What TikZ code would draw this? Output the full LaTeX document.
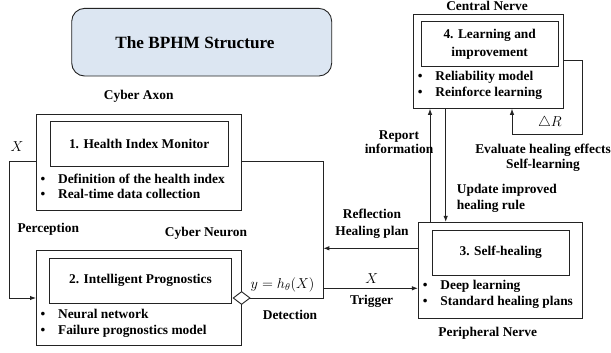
\documentclass[tikz,border=0pt]{standalone}
\usepackage{fontspec}
\setmainfont{Liberation Serif}
\usetikzlibrary{shapes.geometric,arrows.meta}
\definecolor{titlefill}{RGB}{220,230,242}
\definecolor{ln}{RGB}{35,35,35}
\newcommand\bul[1]{\makebox[17.5pt][l]{\textbullet}#1}
\begin{document}
\begin{tikzpicture}[x=1pt,y=-1pt,
  every node/.style={font=\fontsize{13.4}{15.7}\selectfont\bfseries, inner sep=0pt, text=black},
  box/.style={draw=ln, line width=0.9pt, fill=white, rectangle, inner sep=0pt},
  lbl/.style={align=center},
  lst/.style={anchor=west, align=left},
  arr/.style={draw=ln, line width=0.9pt, -{Latex[length=6pt,width=4.5pt]}},
  ln/.style={draw=ln, line width=0.9pt}
]
\useasboundingbox (0,0) rectangle (611,353);

% coordinates of the outer frame and free ends
\coordinate (fr) at (323.3,298);
\coordinate (ftr) at (323.3,161);
\coordinate (ftl) at (9,161);
\coordinate (fbl) at (9,298);
\coordinate (trs) at (323.3,288.3);
\coordinate (refl) at (323.3,248.3);
\coordinate (ua) at (430,0);
\coordinate (da) at (445.7,0);
\coordinate (la) at (563,60);
\coordinate (lb) at (582,60);
\coordinate (lc) at (582,134);
\coordinate (ld) at (512,134);

% title
\node[draw=ln, line width=0.9pt, fill=titlefill, rounded corners=13pt,
      minimum width=260pt, minimum height=67.7pt] (title) at (201.7,42.2) {};
\node[font=\fontsize{17.2}{20}\selectfont\bfseries] (titletext) at (195,42.7) {The BPHM Structure};

% boxes
\node[box, minimum width=164.4pt, minimum height=96pt] (b3) at (500.5,270.3) {};
\node[box, minimum width=150pt, minimum height=94.3pt] (b4) at (488.3,61.2) {};

% frame (drawn before boxes 1 and 2)
\node[box, minimum width=204.7pt, minimum height=94.3pt] (b2) at (138.8,297.9) {};
\coordinate (dc) at (b2.east |- fr);
\draw[ln] (dc) -- (fr) -- (ftr) -- (ftl) -- (fbl);
\draw[arr] (fbl) -- (b2.west |- fbl);
\node[box, minimum width=205.2pt, minimum height=96pt] (b1) at (139,162) {};
\node[draw=ln, line width=0.9pt, fill=white, diamond, inner sep=0pt,
      minimum width=17pt, minimum height=13pt] (dia) at (dc) {};

% inner boxes
\node[box, minimum width=178.3pt, minimum height=45pt] (i1) at (139.2,144.2) {1. Health Index Monitor};
\node[box, minimum width=182.4pt, minimum height=45pt] (i2) at (140.5,280.8) {2. Intelligent Prognostics};
\node[box, minimum width=137pt, minimum height=45pt] (i3) at (500.8,252.5) {3. Self-healing};
\node[box, minimum width=137.3pt, minimum height=45pt, align=center,
      font=\fontsize{13.4}{17.3}\selectfont\bfseries] (i4) at (489.7,44.2) {4. Learning and\\improvement};

% lists
\node[lst] (l1) at (40.4,186.2) {\bul{Definition of the health index}\\\bul{Real-time data collection}};
\node[lst] (l2) at (40.4,323) {\bul{Neural network}\\\bul{Failure prognostics model}};
\node[lst] (l3) at (422.7,294.5) {\bul{Deep learning}\\\bul{Standard healing plans}};
\node[lst] (l4) at (417.7,85.5) {\bul{Reliability model}\\\bul{Reinforce learning}};

% connectors
\draw[arr] (trs) -- (trs -| b3.west);
\draw[arr] (refl -| b3.west) -- (refl);
\draw[arr] (ua |- b3.north) -- (ua |- b4.south);
\draw[arr] (da |- b4.south) -- (da |- b3.north);
\draw[arr] (la) -- (lb) -- (lc) -- (ld) -- (ld |- b4.south);

% labels
\node (cax) at (138.7,96.7) {Cyber Axon};
\node[font=\fontsize{13.4}{15.7}\selectfont] (xl) at (17,147) {$X$};
\node[anchor=west] (perc) at (17.3,229.3) {Perception};
\node (cneu) at (206,233.3) {Cyber Neuron};
\node[font=\fontsize{14.5}{17}\selectfont] (yh) at (282.5,284.5) {$y=h_\theta(X)$};
\node (det) at (290,315) {Detection};
\node[lbl, font=\fontsize{13.4}{17.5}\selectfont\bfseries] (rhp) at (372,224) {Reflection\\Healing plan};
\node[font=\fontsize{13.4}{15.7}\selectfont] (xt) at (371.7,279) {$X$};
\node (trig) at (371.7,301.7) {Trigger};
\node[anchor=west, align=left, font=\fontsize{13.4}{16}\selectfont\bfseries] (upd) at (456.7,198.7) {Update improved\\healing rule};
\node[lbl, font=\fontsize{13.4}{14.8}\selectfont\bfseries] (rep) at (399,142.2) {Report\\information};
\node (cn) at (487,6) {Central Nerve};
\node[lbl, font=\fontsize{13.4}{15}\selectfont\bfseries] (eval) at (543,157.5) {Evaluate healing effects\\Self-learning};
\node[font=\fontsize{14}{16}\selectfont] (dr) at (550,122.7) {$\triangle R$};
\node (pn) at (487.7,333.3) {Peripheral Nerve};
\end{tikzpicture}
\end{document}
